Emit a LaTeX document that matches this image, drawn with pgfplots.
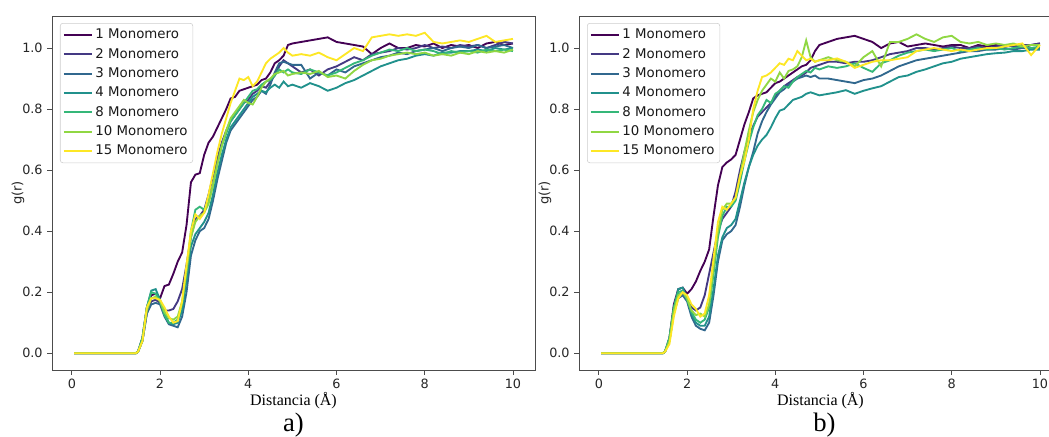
\documentclass[border=0pt]{standalone}
\usepackage{pgfplots}
\pgfplotsset{compat=1.18}
\usepackage{pgfplotstable}
\usepackage{fontspec}
\setmainfont{DejaVu Sans}
\newfontfamily\timesfont{Liberation Serif}
\definecolor{v1}{HTML}{440154}
\definecolor{v2}{HTML}{443983}
\definecolor{v3}{HTML}{31688E}
\definecolor{v4}{HTML}{21918C}
\definecolor{v8}{HTML}{35B779}
\definecolor{v10}{HTML}{90D743}
\definecolor{v15}{HTML}{FDE725}

\pgfplotstableread{
x m1 m2 m3 m4 m8 m10 m15
0.05 0 0 0 0 0 0 0
1.45 0 0 0 0 0 0 0
1.5 0.005 0.005 0.005 0.005 0.005 0.005 0.005
1.6 0.05 0.04 0.04 0.05 0.05 0.04 0.04
1.7 0.15 0.13 0.13 0.15 0.15 0.14 0.15
1.8 0.19 0.17 0.16 0.205 0.20 0.18 0.18
1.9 0.195 0.175 0.165 0.21 0.195 0.185 0.18
2.0 0.18 0.165 0.16 0.175 0.17 0.17 0.175
2.1 0.22 0.14 0.12 0.13 0.125 0.135 0.15
2.2 0.225 0.14 0.095 0.10 0.10 0.115 0.12
2.3 0.26 0.145 0.09 0.095 0.10 0.11 0.10
2.4 0.30 0.17 0.085 0.10 0.11 0.12 0.105
2.5 0.33 0.21 0.12 0.14 0.16 0.17 0.17
2.6 0.42 0.29 0.20 0.24 0.27 0.27 0.29
2.7 0.56 0.38 0.32 0.35 0.40 0.38 0.40
2.8 0.585 0.44 0.37 0.39 0.47 0.43 0.455
2.9 0.59 0.45 0.40 0.41 0.48 0.45 0.44
3.0 0.65 0.47 0.41 0.43 0.47 0.46 0.46
3.1 0.69 0.52 0.44 0.46 0.50 0.49 0.52
3.2 0.71 0.58 0.50 0.52 0.55 0.55 0.59
3.3 0.74 0.64 0.57 0.59 0.62 0.62 0.66
3.4 0.77 0.69 0.63 0.65 0.68 0.68 0.72
3.5 0.80 0.73 0.69 0.70 0.72 0.73 0.77
3.6 0.835 0.76 0.73 0.74 0.76 0.77 0.82
3.7 0.84 0.78 0.75 0.76 0.78 0.79 0.86
3.8 0.86 0.80 0.77 0.78 0.80 0.81 0.90
3.9 0.865 0.82 0.79 0.80 0.82 0.83 0.895
4.0 0.87 0.83 0.81 0.82 0.84 0.82 0.905
4.1 0.875 0.85 0.83 0.84 0.86 0.815 0.875
4.2 0.88 0.86 0.84 0.85 0.865 0.84 0.89
4.3 0.895 0.875 0.86 0.86 0.88 0.87 0.92
4.4 0.90 0.87 0.85 0.855 0.89 0.89 0.95
4.5 0.92 0.89 0.88 0.87 0.895 0.90 0.965
4.6 0.95 0.91 0.92 0.88 0.91 0.915 0.975
4.7 0.96 0.94 0.95 0.87 0.93 0.92 0.985
4.8 0.975 0.96 0.955 0.89 0.92 0.925 1.0
4.9 1.01 0.95 0.95 0.875 0.93 0.91 0.985
5.0 1.015 0.94 0.945 0.88 0.92 0.915 0.975
5.2 1.02 0.92 0.945 0.87 0.915 0.92 0.98
5.4 1.025 0.93 0.90 0.885 0.93 0.915 0.975
5.6 1.03 0.91 0.92 0.875 0.92 0.925 0.985
5.8 1.035 0.93 0.91 0.86 0.91 0.905 0.97
6.0 1.02 0.94 0.93 0.87 0.92 0.91 0.96
6.2 1.015 0.955 0.92 0.885 0.935 0.90 0.98
6.4 1.01 0.97 0.94 0.895 0.95 0.925 1.0
6.6 1.005 0.96 0.95 0.91 0.96 0.945 0.99
6.8 0.98 0.98 0.96 0.925 0.975 0.96 1.035
7.0 1.0 0.985 0.97 0.94 0.985 0.965 1.04
7.2 1.015 0.99 0.975 0.95 0.995 0.975 1.045
7.4 1.0 1.0 0.985 0.96 0.99 0.98 1.04
7.6 1.0 0.995 0.98 0.965 1.0 0.985 1.045
7.8 1.01 1.0 0.99 0.975 0.99 0.98 1.04
8.0 1.005 1.01 0.995 0.98 0.995 0.985 1.05
8.2 1.015 1.0 1.0 0.975 0.99 0.975 1.02
8.4 1.0 1.005 0.99 0.985 0.98 0.98 1.015
8.6 1.01 1.0 1.0 0.985 0.99 0.975 1.02
8.8 1.005 1.01 1.005 0.99 0.985 0.985 1.025
9.0 1.01 1.005 1.0 0.99 0.99 0.98 1.02
9.2 1.0 1.01 1.01 0.995 0.985 0.99 1.03
9.4 1.015 1.0 1.0 0.99 0.995 0.985 1.04
9.6 1.02 1.01 1.005 1.0 0.99 0.99 1.02
9.8 1.01 1.02 1.01 0.995 0.995 0.985 1.025
10.0 1.015 1.015 1.0 1.0 0.99 0.995 1.03
}\dataA

\pgfplotstableread{
x m1 m2 m3 m4 m8 m10 m15
0.05 0 0 0 0 0 0 0
1.45 0 0 0 0 0 0 0
1.5 0.005 0.005 0.005 0.005 0.005 0.005 0.005
1.6 0.05 0.04 0.04 0.05 0.05 0.04 0.03
1.7 0.16 0.14 0.13 0.15 0.15 0.14 0.12
1.8 0.21 0.19 0.18 0.21 0.20 0.19 0.18
1.9 0.215 0.20 0.19 0.215 0.205 0.20 0.20
2.0 0.195 0.18 0.17 0.18 0.175 0.18 0.19
2.1 0.21 0.15 0.12 0.13 0.135 0.14 0.16
2.2 0.235 0.14 0.09 0.10 0.11 0.125 0.145
2.3 0.27 0.15 0.08 0.09 0.10 0.13 0.12
2.4 0.30 0.19 0.075 0.09 0.11 0.12 0.13
2.5 0.34 0.26 0.10 0.12 0.15 0.16 0.19
2.6 0.45 0.33 0.19 0.21 0.26 0.28 0.31
2.7 0.55 0.40 0.30 0.32 0.38 0.40 0.43
2.8 0.61 0.44 0.37 0.38 0.45 0.47 0.48
2.9 0.625 0.46 0.39 0.41 0.48 0.49 0.47
3.0 0.635 0.48 0.40 0.42 0.48 0.49 0.49
3.1 0.65 0.53 0.42 0.44 0.50 0.51 0.51
3.2 0.70 0.60 0.48 0.50 0.56 0.58 0.58
3.3 0.75 0.66 0.55 0.56 0.63 0.66 0.63
3.4 0.79 0.71 0.61 0.61 0.69 0.73 0.70
3.5 0.835 0.745 0.66 0.65 0.74 0.79 0.80
3.6 0.845 0.775 0.72 0.68 0.78 0.83 0.86
3.7 0.85 0.79 0.76 0.70 0.80 0.86 0.905
3.8 0.855 0.805 0.79 0.715 0.83 0.88 0.91
3.9 0.87 0.82 0.815 0.74 0.82 0.90 0.92
4.0 0.885 0.84 0.835 0.77 0.85 0.89 0.935
4.1 0.89 0.86 0.855 0.795 0.86 0.92 0.95
4.2 0.90 0.875 0.865 0.80 0.875 0.90 0.945
4.3 0.91 0.885 0.88 0.815 0.87 0.925 0.965
4.4 0.92 0.895 0.89 0.83 0.89 0.93 0.96
4.5 0.93 0.905 0.90 0.835 0.905 0.94 0.99
4.6 0.94 0.91 0.905 0.84 0.915 0.97 0.975
4.7 0.945 0.92 0.91 0.85 0.925 1.025 0.96
4.8 0.96 0.935 0.905 0.855 0.92 0.97 0.965
4.9 0.99 0.94 0.91 0.85 0.935 0.955 0.955
5.0 1.01 0.945 0.90 0.845 0.93 0.96 0.96
5.2 1.02 0.955 0.90 0.85 0.94 0.97 0.96
5.4 1.03 0.955 0.895 0.855 0.935 0.96 0.966
5.6 1.035 0.95 0.89 0.862 0.94 0.955 0.955
5.8 1.04 0.955 0.885 0.85 0.95 0.94 0.935
6.0 1.03 0.955 0.895 0.86 0.935 0.97 0.945
6.2 1.02 0.96 0.90 0.868 0.922 0.99 0.955
6.4 1.0 0.97 0.91 0.875 0.95 0.94 0.96
6.6 1.015 0.98 0.925 0.89 0.96 1.02 0.96
6.8 1.02 0.985 0.94 0.905 0.975 1.02 0.965
7.0 1.005 0.99 0.95 0.91 0.985 1.03 0.97
7.2 1.01 1.0 0.96 0.922 0.99 1.045 0.99
7.4 1.015 1.0 0.965 0.93 0.995 1.03 0.995
7.6 1.01 0.995 0.97 0.94 0.99 1.02 1.0
7.8 1.005 1.0 0.975 0.95 0.995 1.035 0.995
8.0 1.01 1.005 0.98 0.955 1.0 1.04 0.99
8.2 1.01 1.0 0.985 0.965 0.99 1.02 0.995
8.4 1.0 1.0 0.99 0.97 0.995 1.015 0.99
8.6 1.01 1.005 0.99 0.975 1.0 1.02 0.995
8.8 1.005 1.0 0.995 0.98 0.995 1.01 1.0
9.0 1.01 1.005 0.995 0.983 1.0 1.015 1.0
9.2 1.005 1.01 1.0 0.985 0.995 1.01 1.005
9.4 1.01 1.005 0.995 0.99 1.0 1.015 1.01
9.6 1.0 1.01 1.0 0.99 1.005 1.005 1.015
9.8 1.01 1.01 1.0 0.995 1.0 1.01 0.977
10.0 1.015 1.015 1.0 0.995 1.005 1.01 1.01
}\dataB

\pgfplotsset{
  gr/.style={
    scale only axis, width=362.25pt, height=265.5pt,
    xmin=-0.45, xmax=10.5, ymin=-0.055, ymax=1.105,
    xtick={0,2,4,6,8,10}, ytick={0,0.2,0.4,0.6,0.8,1.0},
    /pgf/number format/assume math mode=true,
    yticklabel style={/pgf/number format/fixed, /pgf/number format/fixed zerofill, /pgf/number format/precision=1},
    tick label style={font=\fontsize{9.6}{11}\selectfont, text=black!85},
    tick align=outside, tick pos=left, major tick length=3.5pt,
    axis line style={black!70, line width=0.6pt},
    every tick/.style={black!70, line width=0.6pt},
    every axis y label/.style={at={(axis description cs:-0.0704,0.5)}, rotate=90, anchor=center, font=\fontsize{9.8}{11}\selectfont, text=black!85},
    every axis x label/.style={at={(axis description cs:0.5,0)}, anchor=base, yshift=-26.25pt, font=\timesfont\fontsize{12}{14}\selectfont},
    ylabel={g(r)}, xlabel={Distancia (Å)},
    legend style={at={(axis description cs:0,1)}, anchor=north west, xshift=6pt, yshift=-5.25pt,
      draw=black!20, rounded corners=2pt, fill=white,
      font=\fontsize{10}{11}\selectfont, text=black!90,
      inner xsep=2pt, inner ysep=2.5pt, row sep=1.6pt,
      nodes={inner sep=2pt, anchor=west}},
    legend cell align=left,
    legend image code/.code={\draw[#1] (0pt,0pt) -- (21pt,0pt);},
    every axis plot/.append style={line width=1.4pt},
  }
}

\begin{document}
\begin{tikzpicture}
\begin{axis}[gr, name=A, at={(0pt,0pt)}, anchor=south west]
\addplot[v1, no marks] table[x=x,y=m1]{\dataA};
\addplot[v2, no marks] table[x=x,y=m2]{\dataA};
\addplot[v3, no marks] table[x=x,y=m3]{\dataA};
\addplot[v4, no marks] table[x=x,y=m4]{\dataA};
\addplot[v8, no marks] table[x=x,y=m8]{\dataA};
\addplot[v10, no marks] table[x=x,y=m10]{\dataA};
\addplot[v15, no marks] table[x=x,y=m15]{\dataA};
\legend{1 Monomero, 2 Monomero, 3 Monomero, 4 Monomero, 8 Monomero, 10 Monomero, 15 Monomero}
\end{axis}
\node[font=\timesfont\fontsize{20}{22}\selectfont, anchor=base] at ([yshift=-45.75pt]A.south) {a)};
\begin{axis}[gr, name=B, at={(395.25pt,0pt)}, anchor=south west]
\addplot[v1, no marks] table[x=x,y=m1]{\dataB};
\addplot[v2, no marks] table[x=x,y=m2]{\dataB};
\addplot[v3, no marks] table[x=x,y=m3]{\dataB};
\addplot[v4, no marks] table[x=x,y=m4]{\dataB};
\addplot[v8, no marks] table[x=x,y=m8]{\dataB};
\addplot[v10, no marks] table[x=x,y=m10]{\dataB};
\addplot[v15, no marks] table[x=x,y=m15]{\dataB};
\legend{1 Monomero, 2 Monomero, 3 Monomero, 4 Monomero, 8 Monomero, 10 Monomero, 15 Monomero}
\end{axis}
\node[font=\timesfont\fontsize{20}{22}\selectfont, anchor=base] at ([yshift=-45.75pt, xshift=3pt]B.south) {b)};
\pgfresetboundingbox
\useasboundingbox (-39pt,-49.5pt) rectangle (747.75pt,277.5pt);
\end{tikzpicture}
\end{document}
